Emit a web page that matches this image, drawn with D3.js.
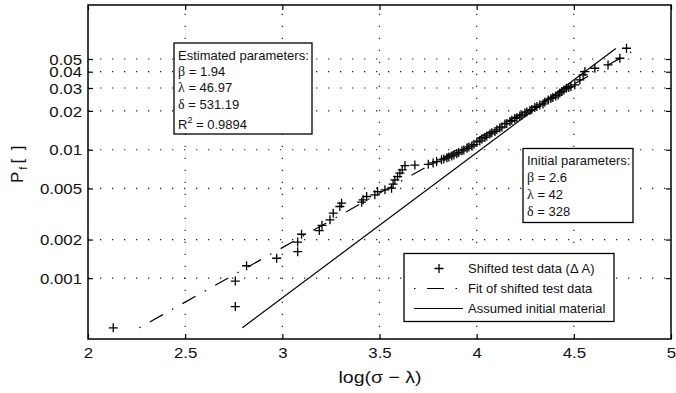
<!DOCTYPE html>
<html>
<head>
<meta charset="utf-8">
<script src="https://cdn.jsdelivr.net/npm/d3@7"></script>
<style>
  body { margin: 0; background: #fff; }
  text { font-family: "Liberation Sans", Arial, sans-serif; }
</style>
</head>
<body>
<div id="chart"></div>
<script>
// data: x = log(sigma - lambda), P = failure probability
var logStress = [2.130, 2.758, 2.758, 2.816, 2.971, 3.079, 3.079, 3.099, 3.190, 3.204,
  3.245, 3.262, 3.296, 3.305, 3.408, 3.416, 3.434, 3.476, 3.490, 3.528,
  3.562, 3.570, 3.579, 3.593, 3.605, 3.617, 3.631, 3.682, 3.751, 3.776,
  3.794, 3.819, 3.831, 3.847, 3.857, 3.872, 3.883, 3.898, 3.908, 3.924,
  3.934, 3.950, 3.960, 3.975, 3.986, 4.001, 4.016, 4.027, 4.042, 4.052,
  4.068, 4.078, 4.094, 4.104, 4.119, 4.130, 4.145, 4.155, 4.171, 4.181,
  4.196, 4.207, 4.222, 4.233, 4.248, 4.258, 4.274, 4.284, 4.299, 4.310,
  4.325, 4.341, 4.351, 4.368, 4.382, 4.392, 4.407, 4.419, 4.428, 4.438,
  4.449, 4.462, 4.474, 4.485, 4.505, 4.531, 4.548, 4.557, 4.608, 4.676,
  4.737, 4.771];
var probFail = [0.00041, 0.00060, 0.00095, 0.00125, 0.00143, 0.00161, 0.00191, 0.00220, 0.00235, 0.00258,
  0.00285, 0.00321, 0.00362, 0.00384, 0.00391, 0.00408, 0.00433, 0.00446, 0.00473, 0.00488,
  0.00503, 0.00540, 0.00583, 0.00619, 0.00658, 0.00698, 0.00754, 0.00760, 0.00770, 0.00790,
  0.00810, 0.00835, 0.00849, 0.00865, 0.00880, 0.00896, 0.00912, 0.00929, 0.00953, 0.00980,
  0.00997, 0.01025, 0.01052, 0.01071, 0.01101, 0.01150, 0.01171, 0.01214, 0.01246, 0.01281,
  0.01327, 0.01352, 0.01388, 0.01427, 0.01477, 0.01504, 0.01586, 0.01600, 0.01658, 0.01689,
  0.01750, 0.01781, 0.01829, 0.01862, 0.01929, 0.01964, 0.02017, 0.02053, 0.02127, 0.02165,
  0.02224, 0.02263, 0.02345, 0.02430, 0.02495, 0.02540, 0.02608, 0.02656, 0.02751, 0.02825,
  0.02900, 0.02988, 0.03031, 0.03085, 0.03169, 0.03462, 0.03782, 0.04007, 0.04253, 0.04505,
  0.05065, 0.06033];

// end points of the two straight lines
var fitX = [2.264, 4.814];
var fitP = [0.00041, 0.0585];
var initX = [2.794, 4.716];
var initP = [0.00041, 0.0600];

var xTicks = [2, 2.5, 3, 3.5, 4, 4.5, 5];
var pTicks = [0.001, 0.002, 0.005, 0.01, 0.02, 0.03, 0.04, 0.05];
var pLabels = ["0.001", "0.002", "0.005", "0.01", "0.02", "0.03", "0.04", "0.05"];

var legendLabels = ["Shifted test data (\u0394 A)", "Fit of shifted test data", "Assumed initial material"];

// set the dimensions and margins of the graph
var margin = {top: 5, right: 5, bottom: 54, left: 88},
    width = 676 - margin.left - margin.right,
    height = 393 - margin.top - margin.bottom;

var svg = d3.select("#chart")
  .append("svg")
    .attr("width", 676)
    .attr("height", 393)
  .append("g")
    .attr("transform", "translate(" + margin.left + "," + margin.top + ")");

// weibull probability paper: ln(-ln(1-P))
var weib = function(p) { return Math.log(-Math.log(1 - p)); };

var x = d3.scaleLinear().domain([2, 5]).range([0, width]);
var y = d3.scaleLinear().domain([-8, -2]).range([height, 0]);

// dotted grid
var grid = svg.append("g");
grid.selectAll("line.gx")
  .data(xTicks.slice(1, -1))
  .enter().append("line")
    .attr("x1", function(d) { return x(d); })
    .attr("x2", function(d) { return x(d); })
    .attr("y1", height)
    .attr("y2", 0);
grid.selectAll("line.gy")
  .data(pTicks)
  .enter().append("line")
    .attr("x1", 0)
    .attr("x2", width)
    .attr("y1", function(d) { return y(weib(d)); })
    .attr("y2", function(d) { return y(weib(d)); });
grid.selectAll("line")
  .style("stroke", "#222")
  .style("stroke-width", 1.2)
  .style("stroke-dasharray", "1.3,10.7");

// axes, ticks pointing inward on all four sides
var fmt = function(d, i) { return pLabels[i]; };
var yAxis = svg.append("g")
  .call(d3.axisLeft(y).tickValues(pTicks.map(weib)).tickSize(-5).tickFormat(fmt));
svg.append("g")
  .attr("transform", "translate(" + width + ",0)")
  .call(d3.axisRight(y).tickValues(pTicks.map(weib)).tickSize(-5).tickFormat(""));
var xAxis = svg.append("g")
  .attr("transform", "translate(0," + height + ")")
  .call(d3.axisBottom(x).tickValues(xTicks).tickSize(-5).tickFormat(d3.format("")));
svg.append("g")
  .call(d3.axisTop(x).tickValues(xTicks).tickSize(-5).tickFormat(""));

svg.selectAll(".domain").remove();
svg.selectAll(".tick line").style("stroke", "#000").style("stroke-width", 1.2);

yAxis.selectAll("text")
  .attr("x", 0)
  .attr("dy", "0.36em")
  .attr("transform", "translate(-6,0) scale(1.16,1)")
  .style("font-family", "Liberation Sans, Arial, sans-serif")
  .style("font-size", "14.5px")
  .style("fill", "#111");
xAxis.selectAll("text")
  .attr("y", 19)
  .attr("dy", 0)
  .attr("transform", "scale(1.16,1)")
  .style("font-family", "Liberation Sans, Arial, sans-serif")
  .style("font-size", "14.5px")
  .style("fill", "#111");

// frame
svg.append("rect")
  .attr("width", width)
  .attr("height", height)
  .style("fill", "none")
  .style("stroke", "#000")
  .style("stroke-width", 1.5);

// assumed initial material (solid)
var line = d3.line()
  .x(function(d) { return x(d[0]); })
  .y(function(d) { return y(weib(d[1])); });

svg.append("path")
  .datum(d3.zip(initX, initP))
  .attr("d", line)
  .style("fill", "none")
  .style("stroke", "#000")
  .style("stroke-width", 1.2);

// fit of shifted test data (dash-dot)
svg.append("path")
  .datum(d3.zip(fitX, fitP))
  .attr("d", line)
  .style("fill", "none")
  .style("stroke", "#000")
  .style("stroke-width", 1.2)
  .style("stroke-dasharray", "1.5,10.5,15,10.5");

// plus markers
svg.append("g")
  .selectAll("path")
  .data(d3.zip(logStress, probFail))
  .enter().append("path")
    .attr("d", "M-4.5,0H4.5M0,-4.5V4.5")
    .attr("transform", function(d) { return "translate(" + x(d[0]) + "," + y(weib(d[1])) + ")"; })
    .style("fill", "none")
    .style("stroke", "#000")
    .style("stroke-width", 1.3);

// text boxes
function textBox(bx, by, bw, bh) {
  svg.append("rect")
    .attr("x", bx - margin.left)
    .attr("y", by - margin.top)
    .attr("width", bw)
    .attr("height", bh)
    .style("fill", "#fff")
    .style("stroke", "#000")
    .style("stroke-width", 1.3);
}
function greekLine(tx, ty, greek, rest) {
  var t = svg.append("text")
    .attr("x", tx - margin.left)
    .attr("y", ty - margin.top)
    .style("font-size", "13px")
    .style("fill", "#111");
  t.append("tspan").style("font-family", "Liberation Serif, serif").style("font-size", "14px").text(greek);
  t.append("tspan").text(rest);
  return t;
}

textBox(174, 43, 138, 91);
svg.append("text")
  .attr("x", 178 - margin.left)
  .attr("y", 59.5 - margin.top)
  .style("font-size", "13px")
  .style("fill", "#111")
  .text("Estimated parameters:");
greekLine(178, 75.5, "\u03b2", " = 1.94");
greekLine(178, 92, "\u03bb", " = 46.97");
greekLine(178, 109, "\u03b4", " = 531.19");
var r2 = svg.append("text")
  .attr("x", 178 - margin.left)
  .attr("y", 129 - margin.top)
  .style("font-size", "13px")
  .style("fill", "#111");
r2.append("tspan").text("R");
r2.append("tspan").attr("dy", -6).style("font-size", "9px").text("2");
r2.append("tspan").attr("dy", 6).text(" = 0.9894");

textBox(523, 148.5, 110, 74);
svg.append("text")
  .attr("x", 527 - margin.left)
  .attr("y", 165 - margin.top)
  .style("font-size", "13px")
  .style("fill", "#111")
  .text("Initial parameters:");
greekLine(527, 182, "\u03b2", " = 2.6");
greekLine(527, 199, "\u03bb", " = 42");
greekLine(527, 215.5, "\u03b4", " = 328");

// legend
textBox(404, 253.5, 210, 68);
var legY = [268.5, 288.5, 308.5];
svg.append("path")
  .attr("d", "M-4.5,0H4.5M0,-4.5V4.5")
  .attr("transform", "translate(" + (439 - margin.left) + "," + (legY[0] - margin.top) + ")")
  .style("fill", "none")
  .style("stroke", "#000")
  .style("stroke-width", 1.3);
svg.append("line")
  .attr("x1", 414 - margin.left).attr("x2", 463 - margin.left)
  .attr("y1", legY[1] - margin.top).attr("y2", legY[1] - margin.top)
  .style("stroke", "#000")
  .style("stroke-width", 1.2)
  .style("stroke-dasharray", "1.5,11.5,17,11.5");
svg.append("line")
  .attr("x1", 414 - margin.left).attr("x2", 463 - margin.left)
  .attr("y1", legY[2] - margin.top).attr("y2", legY[2] - margin.top)
  .style("stroke", "#000")
  .style("stroke-width", 1.2);
svg.selectAll("text.leg")
  .data(legendLabels)
  .enter().append("text")
    .attr("class", "leg")
    .attr("x", 468 - margin.left)
    .attr("y", function(d, i) { return legY[i] + 4.5 - margin.top; })
    .style("font-size", "13px")
    .style("fill", "#111")
    .text(function(d) { return d; });

// axis labels
svg.append("text")
  .attr("transform", "translate(" + (380 - margin.left) + "," + (383 - margin.top) + ") scale(1.15,1)")
  .attr("text-anchor", "middle")
  .style("font-size", "17px")
  .style("fill", "#111")
  .text("log(\u03c3 \u2212 \u03bb)");

var yl = svg.append("text")
  .attr("transform", "translate(" + (23 - margin.left) + "," + (183 - margin.top) + ") rotate(-90)")
  .style("font-size", "17px")
  .style("fill", "#111");
yl.append("tspan").text("P");
yl.append("tspan").attr("dy", 4).attr("dx", 2).style("font-size", "11px").text("f");
yl.append("tspan").attr("dy", -4).attr("dx", 3).text("[\u2002]");
</script>
</body>
</html>
